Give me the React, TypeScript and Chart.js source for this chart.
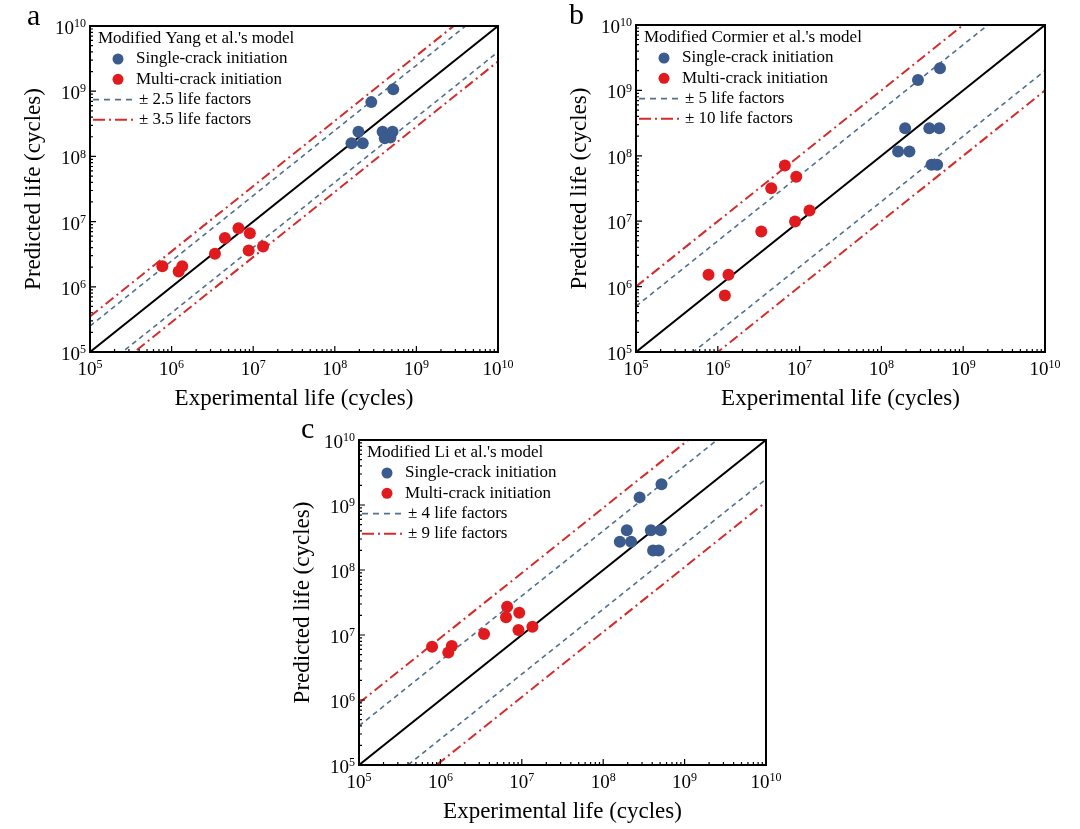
import { useEffect, useRef } from 'react'
import { Chart, registerables } from 'chart.js'

Chart.register(...registerables)

// log axis, shared by the three panels
const axisRange = [1e5, 1e10]
const majorTicks = [1e5, 1e6, 1e7, 1e8, 1e9, 1e10]
const tickExponents = ['5', '6', '7', '8', '9', '10']
const minorSteps = [2, 3, 4, 5, 6, 7, 8, 9]

// experimental lives (cycles)
const singleExp = [1.6e8, 1.95e8, 2.2e8, 2.8e8, 3.85e8, 4.1e8, 4.8e8, 5.1e8, 5.2e8]
const multiExp = [7.7e5, 1.22e6, 1.35e6, 3.4e6, 4.5e6, 6.6e6, 8.8e6, 9.1e6, 1.32e7]
const multiExpLi = [7.9e5, 1.25e6, 1.38e6, 3.44e6, 6.4e6, 6.6e6, 9.1e6, 9.3e6, 1.35e7]

// predicted lives (cycles)
const yangSingle = [1.59e8, 2.39e8, 1.59e8, 6.8e8, 2.39e8, 1.9e8, 1.95e8, 2.39e8, 1.07e9]
const yangMulti = [2.06e6, 1.72e6, 2.06e6, 3.2e6, 5.6e6, 7.9e6, 3.6e6, 6.65e6, 4.16e6]
const cormierSingle = [1.16e8, 2.64e8, 1.16e8, 1.44e9, 2.64e8, 7.3e7, 7.3e7, 2.64e8, 2.18e9]
const cormierMulti = [1.52e6, 7.3e5, 1.52e6, 6.97e6, 3.2e7, 7.1e7, 9.9e6, 4.8e7, 1.46e7]
const liSingle = [2.73e8, 4.1e8, 2.73e8, 1.31e9, 4.1e8, 2.0e8, 2.0e8, 4.1e8, 2.08e9]
const liMulti = [6.6e6, 5.4e6, 6.8e6, 1.04e7, 1.87e7, 2.72e7, 1.19e7, 2.2e7, 1.34e7]

// life factor bands [inner, outer]
const yangFactors = [2.5, 3.5]
const cormierFactors = [5, 10]
const liFactors = [4, 9]

const serif = '"Liberation Serif", "Times New Roman", serif'
const blueDot = '#3b5a8e'
const redDot = '#e11b1d'
const blueDash = '#51708c'
const redDashDot = '#d42b2b'

type PanelCfg = {
  letter: string
  letterPos: [number, number]
  model: string
  single: number[]
  multi: number[]
  multiX: number[]
  factors: number[]
  box: { left: number; top: number; width: number; height: number }
  pad: { left: number; top: number; right: number; bottom: number }
}

const panels: PanelCfg[] = [
  {
    letter: 'a',
    letterPos: [27, 25],
    model: "Modified Yang et al.'s model",
    single: yangSingle,
    multi: yangMulti,
    multiX: multiExp,
    factors: yangFactors,
    box: { left: 0, top: 0, width: 540, height: 415 },
    pad: { left: 90, top: 26, right: 42, bottom: 63 },
  },
  {
    letter: 'b',
    letterPos: [29, 24],
    model: "Modified Cormier et al.'s model",
    single: cormierSingle,
    multi: cormierMulti,
    multiX: multiExp,
    factors: cormierFactors,
    box: { left: 540, top: 0, width: 540, height: 415 },
    pad: { left: 96, top: 25, right: 35, bottom: 63 },
  },
  {
    letter: 'c',
    letterPos: [31, 23],
    model: "Modified Li et al.'s model",
    single: liSingle,
    multi: liMulti,
    multiX: multiExpLi,
    factors: liFactors,
    box: { left: 270, top: 415, width: 540, height: 414 },
    pad: { left: 89, top: 25, right: 44, bottom: 64 },
  },
]

const pts = (xs: number[], ys: number[]) => xs.map((x, i) => ({ x, y: ys[i] }))
const band = (f: number) => axisRange.map((x) => ({ x, y: x * f }))

function framePlugin(cfg: PanelCfg) {
  return {
    id: 'frame',
    afterDatasetsDraw(chart: any) {
      const { ctx, chartArea: a, scales } = chart
      const xs = scales.x
      const ys = scales.y
      ctx.save()

      // inward ticks on bottom and left
      ctx.strokeStyle = '#000'
      ctx.lineWidth = 1.2
      ctx.beginPath()
      majorTicks.forEach((v, i) => {
        const px = xs.getPixelForValue(v)
        const py = ys.getPixelForValue(v)
        ctx.moveTo(px, a.bottom)
        ctx.lineTo(px, a.bottom - 6)
        ctx.moveTo(a.left, py)
        ctx.lineTo(a.left + 6, py)
        if (i < majorTicks.length - 1) {
          minorSteps.forEach((m) => {
            const mx = xs.getPixelForValue(v * m)
            const my = ys.getPixelForValue(v * m)
            ctx.moveTo(mx, a.bottom)
            ctx.lineTo(mx, a.bottom - 3)
            ctx.moveTo(a.left, my)
            ctx.lineTo(a.left + 3, my)
          })
        }
      })
      ctx.stroke()

      ctx.lineWidth = 2
      ctx.strokeRect(a.left, a.top, a.right - a.left, a.bottom - a.top)

      // tick labels 10^n
      const big = `19px ${serif}`
      const small = `12px ${serif}`
      ctx.fillStyle = '#000'
      ctx.textBaseline = 'middle'
      ctx.textAlign = 'left'
      majorTicks.forEach((v, i) => {
        const e = tickExponents[i]
        ctx.font = big
        const w1 = ctx.measureText('10').width
        ctx.font = small
        const w2 = ctx.measureText(e).width
        const px = xs.getPixelForValue(v)
        let x0 = px - (w1 + w2) / 2
        ctx.font = big
        ctx.fillText('10', x0, a.bottom + 18)
        ctx.font = small
        ctx.fillText(e, x0 + w1, a.bottom + 13)
        const py = ys.getPixelForValue(v)
        x0 = a.left - 4 - w1 - w2
        ctx.font = big
        ctx.fillText('10', x0, py + 3)
        ctx.font = small
        ctx.fillText(e, x0 + w1, py - 2)
      })

      // axis titles
      ctx.font = `23px ${serif}`
      ctx.textAlign = 'center'
      ctx.fillText('Experimental life (cycles)', (a.left + a.right) / 2, a.bottom + 47)
      ctx.save()
      ctx.translate(a.left - 56, (a.top + a.bottom) / 2)
      ctx.rotate(-Math.PI / 2)
      ctx.fillText('Predicted life (cycles)', 0, 0)
      ctx.restore()

      // legend
      const ds = chart.data.datasets
      ctx.font = `17px ${serif}`
      ctx.textAlign = 'left'
      ctx.fillText(cfg.model, a.left + 8, a.top + 13)
      ;[0, 1].forEach((k) => {
        const y = a.top + 33 + k * 20.3
        ctx.fillStyle = ds[k].backgroundColor
        ctx.beginPath()
        ctx.arc(a.left + 28, y, 5.5, 0, Math.PI * 2)
        ctx.fill()
        ctx.fillStyle = '#000'
        ctx.fillText(ds[k].label, a.left + 46, y)
      })
      ;[3, 5].forEach((k, j) => {
        const y = a.top + 73.6 + j * 20.1
        ctx.strokeStyle = ds[k].borderColor
        ctx.lineWidth = ds[k].borderWidth
        ctx.setLineDash(j === 0 ? [6, 5] : [12, 4, 2, 4])
        ctx.beginPath()
        ctx.moveTo(a.left + 3, y)
        ctx.lineTo(a.left + 47, y)
        ctx.stroke()
        ctx.setLineDash([])
        ctx.fillStyle = '#000'
        ctx.fillText(ds[k].label, a.left + 49, y)
      })

      // panel letter
      ctx.font = `30px ${serif}`
      ctx.textBaseline = 'alphabetic'
      ctx.fillText(cfg.letter, cfg.letterPos[0], cfg.letterPos[1])
      ctx.restore()
    },
  }
}

function Panel({ cfg }: { cfg: PanelCfg }) {
  const canvasRef = useRef<HTMLCanvasElement | null>(null)

  useEffect(() => {
    const ctx = canvasRef.current?.getContext('2d')
    if (!ctx) return
    const [inner, outer] = cfg.factors
    const lineBase = { showLine: true, pointRadius: 0, fill: false }
    const chart = new Chart(ctx, {
      type: 'scatter',
      data: {
        datasets: [
          {
            label: 'Single-crack initiation',
            data: pts(singleExp, cfg.single),
            backgroundColor: blueDot,
            borderWidth: 0,
            pointRadius: 6,
          },
          {
            label: 'Multi-crack initiation',
            data: pts(cfg.multiX, cfg.multi),
            backgroundColor: redDot,
            borderWidth: 0,
            pointRadius: 6,
          },
          {
            ...lineBase,
            label: 'y = x',
            data: band(1),
            borderColor: '#000',
            borderWidth: 2,
          },
          {
            ...lineBase,
            label: `± ${inner} life factors`,
            data: band(inner),
            borderColor: blueDash,
            borderWidth: 1.6,
            borderDash: [5, 4],
          },
          {
            ...lineBase,
            label: 'lower inner',
            data: band(1 / inner),
            borderColor: blueDash,
            borderWidth: 1.6,
            borderDash: [5, 4],
          },
          {
            ...lineBase,
            label: `± ${outer} life factors`,
            data: band(outer),
            borderColor: redDashDot,
            borderWidth: 2,
            borderDash: [10, 4, 2, 4],
          },
          {
            ...lineBase,
            label: 'lower outer',
            data: band(1 / outer),
            borderColor: redDashDot,
            borderWidth: 2,
            borderDash: [10, 4, 2, 4],
          },
        ] as any,
      },
      options: {
        animation: false,
        responsive: true,
        maintainAspectRatio: false,
        events: [],
        layout: { padding: cfg.pad },
        scales: {
          x: { type: 'logarithmic', min: axisRange[0], max: axisRange[1], display: false },
          y: { type: 'logarithmic', min: axisRange[0], max: axisRange[1], display: false },
        },
        plugins: {
          legend: { display: false },
          tooltip: { enabled: false },
        },
      },
      plugins: [framePlugin(cfg)],
    })
    return () => chart.destroy()
  }, [cfg])

  return (
    <div
      style={{
        position: 'absolute',
        left: cfg.box.left,
        top: cfg.box.top,
        width: cfg.box.width,
        height: cfg.box.height,
      }}
    >
      <canvas ref={canvasRef} />
    </div>
  )
}

export default function App() {
  return (
    <div
      style={{
        position: 'absolute',
        left: 0,
        top: 0,
        width: 1080,
        height: 829,
        background: '#fff',
      }}
    >
      {panels.map((p) => (
        <Panel key={p.letter} cfg={p} />
      ))}
    </div>
  )
}
